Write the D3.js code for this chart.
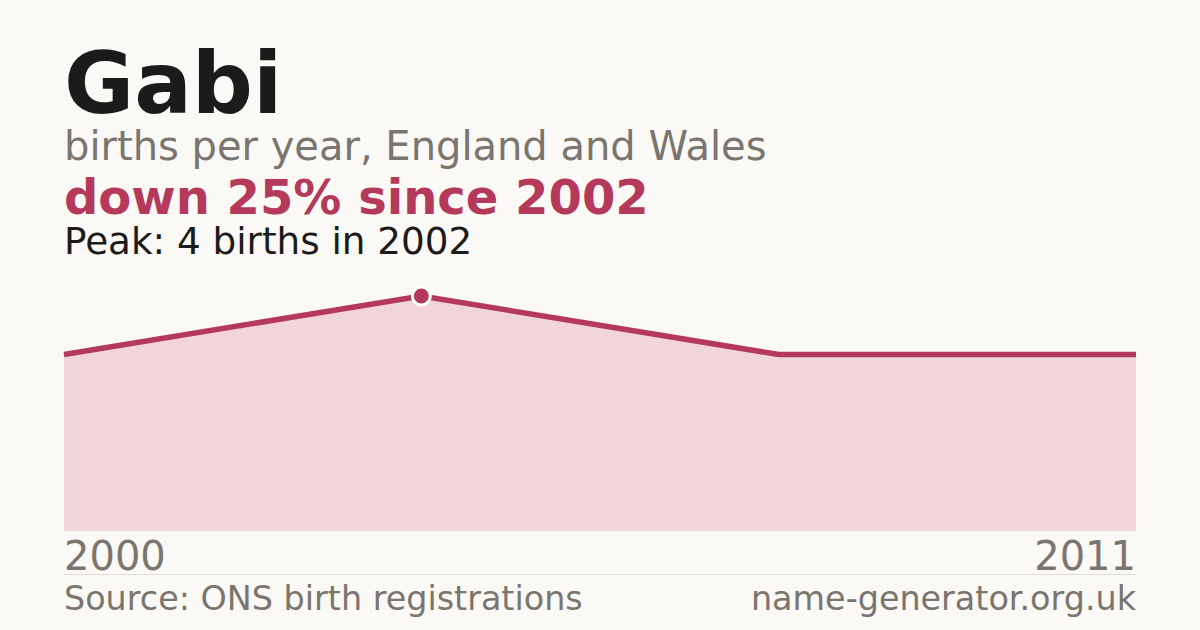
<!DOCTYPE html>
<html><head><meta charset="utf-8">
<script src="https://cdn.jsdelivr.net/npm/d3@7"></script>
<style>
html,body{margin:0;padding:0;background:#faf9f5;}
svg{display:block;font-family:"DejaVu Sans",sans-serif;}
</style></head>
<body>
<svg id="c" width="1200" height="630"></svg>
<script>
const years = ["2000", "2002", "2004", "2011"];
const births = [3, 4, 3, 3];
const axisLabels = ["2000", "2011"];
const peakYear = "2002";
const peakValue = 4;

const W = 1200, H = 630;
const svg = d3.select("#c");
svg.append("rect").attr("width", W).attr("height", H).attr("fill", "#faf9f5");

const x = d3.scalePoint().domain(years).range([64, 1136]);
const y = d3.scaleLinear().domain([0, peakValue]).range([530, 296]);
const data = years.map((yr, i) => ({ yr, v: births[i] }));

svg.append("text").attr("x", 64).attr("y", 113).attr("font-size", 85.5).attr("font-weight", "bold").attr("fill", "#1b1b1b").text("Gabi");
svg.append("text").attr("x", 64).attr("y", 160).attr("font-size", 40).attr("fill", "#7a756e").text("births per year, England and Wales");
svg.append("text").attr("x", 64).attr("y", 214).attr("font-size", 48).attr("font-weight", "bold").attr("fill", "#b5395a").text("down 25% since 2002");
svg.append("text").attr("x", 64).attr("y", 254).attr("font-size", 37.3).attr("fill", "#1b1b1b").text("Peak: 4 births in 2002");

const area = d3.area().x(d => x(d.yr)).y0(y(0)).y1(d => y(d.v));
svg.append("path").datum(data).attr("d", area).attr("fill", "#f2d5da");

svg.append("line").attr("x1", 64).attr("x2", 1136).attr("y1", y(0) + 0.5).attr("y2", y(0) + 0.5).attr("stroke", "#e4ddd6").attr("stroke-width", 1);

const line = d3.line().x(d => x(d.yr)).y(d => y(d.v));
svg.append("path").datum(data).attr("d", line).attr("fill", "none").attr("stroke", "#b5395a").attr("stroke-width", 5.5);

svg.append("circle").attr("cx", x(peakYear)).attr("cy", y(peakValue)).attr("r", 9)
  .attr("fill", "#b5395a").attr("stroke", "#ffffff").attr("stroke-width", 3);

svg.append("text").attr("x", x(axisLabels[0])).attr("y", 570).attr("font-size", 40).attr("fill", "#7a756e").text(axisLabels[0]);
svg.append("text").attr("x", x(axisLabels[1])).attr("y", 570).attr("font-size", 40).attr("fill", "#7a756e").attr("text-anchor", "end").text(axisLabels[1]);

svg.append("line").attr("x1", 64).attr("x2", 1136).attr("y1", 574.5).attr("y2", 574.5).attr("stroke", "#e0dbd4").attr("stroke-width", 1);

svg.append("text").attr("x", 64).attr("y", 610).attr("font-size", 33.4).attr("fill", "#7a756e").text("Source: ONS birth registrations");
svg.append("text").attr("x", 1136).attr("y", 610).attr("font-size", 33.4).attr("fill", "#7a756e").attr("text-anchor", "end").text("name-generator.org.uk");
</script>
</body></html>
